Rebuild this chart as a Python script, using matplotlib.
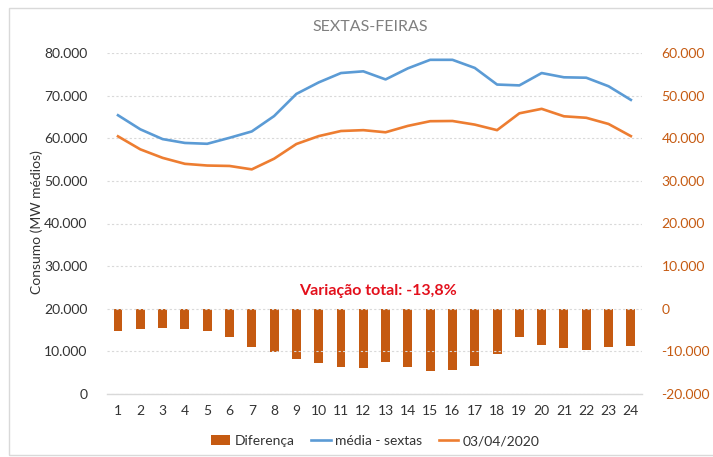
import matplotlib
matplotlib.use("Agg")
import matplotlib.pyplot as plt
from matplotlib.patches import Rectangle
from matplotlib.ticker import FuncFormatter, MultipleLocator

plt.rcParams['font.family'] = ['Lato', 'DejaVu Sans']

hours = list(range(1, 25))
media_sextas = [65400, 62100, 59800, 58900, 58700, 60100, 61600, 65200, 70400, 73100,
                75300, 75700, 73800, 76400, 78400, 78400, 76500, 72600, 72400, 75300,
                74300, 74200, 72200, 69000]
dia_03_04 = [60450, 57400, 55400, 54000, 53600, 53500, 52700, 55200, 58650, 60500,
             61700, 61900, 61400, 62900, 64000, 64050, 63200, 61900, 65850, 66900,
             65150, 64800, 63350, 60500]
diferenca = [-5160, -4770, -4610, -4770, -5320, -6650, -8900, -10090, -11730, -12670,
             -13770, -13920, -12510, -13770, -14550, -14390, -13450, -10640, -6650, -8530,
             -9230, -9620, -9070, -8690]

title = "SEXTAS-FEIRAS"
annot = "Variação total: -13,8%"
left_label = "Consumo (MW médios)"
right_label = "Diferença (MW médios)"

W, H = 713, 457
fig = plt.figure(figsize=(W / 100, H / 100), dpi=100)
ax = fig.add_axes([106.85 / W, (H - 394) / H, (642 - 106.85) / W, (394 - 53) / H])
ax2 = ax.twinx()

blue = '#5B9BD5'
orange = '#ED7D31'
dark_orange = '#C55A11'
txt = '#333333'

def fmt(v, pos=None):
    return f"{v:,.0f}".replace(",", ".")

bars = ax2.bar(hours, diferenca, width=0.4, color=dark_orange, label='Diferença', zorder=3)
l1, = ax.plot(hours, media_sextas, color=blue, lw=1.9, label='média - sextas', zorder=3)
l2, = ax.plot(hours, dia_03_04, color=orange, lw=1.9, label='03/04/2020', zorder=3)
ax.set_zorder(ax2.get_zorder() + 1)
ax.patch.set_visible(False)

ax.set_xlim(0.5, 24.5)
ax.set_ylim(0, 80000)
ax2.set_ylim(-20000, 60000)
ax.yaxis.set_major_locator(MultipleLocator(10000))
ax2.yaxis.set_major_locator(MultipleLocator(10000))
ax.yaxis.set_major_formatter(FuncFormatter(fmt))
ax2.yaxis.set_major_formatter(FuncFormatter(fmt))
ax.set_xticks(hours)
ax.set_xticklabels([str(h) for h in hours])

for a in (ax, ax2):
    for s in a.spines.values():
        s.set_visible(False)
ax.spines['bottom'].set_visible(True)
ax.spines['bottom'].set_color('#D9D9D9')
ax.spines['bottom'].set_linewidth(1.0)

ax.tick_params(axis='both', length=0, labelsize=10, colors=txt)
ax.tick_params(axis='y', pad=14)
ax.tick_params(axis='x', pad=8)
ax2.tick_params(axis='y', length=0, labelsize=10, colors=dark_orange, pad=14)

ax.grid(axis='y', color='#D9D9D9', linestyle=(0, (2, 2)), lw=0.8, zorder=0)
ax.set_axisbelow(True)

fig.text(370 / W, 1 - 27 / H, title, ha='center', va='center', fontsize=11.5, color='#7F7F7F')
fig.text(378 / W, 1 - 291 / H, annot, ha='center', va='center', fontsize=11.5,
         fontweight='bold', color='#E3101C')
fig.text(37 / W, 1 - 222 / H, left_label, rotation=90, ha='center', va='center',
         fontsize=10, color=txt)
fig.text(718 / W, 1 - 214 / H, right_label, rotation=270, ha='center', va='center',
         fontsize=10, color=dark_orange)

fig.legend(handles=[bars, l1, l2], loc='center', bbox_to_anchor=(375 / W, 1 - 441 / H),
           ncol=3, frameon=False, fontsize=10, handlelength=1.4, handletextpad=0.3,
           columnspacing=1.2, labelcolor=txt)

fig.add_artist(Rectangle((8.5 / W, 2.5 / H), 1.0, (H - 10) / H, transform=fig.transFigure,
                         fill=False, edgecolor='#D9D9D9', lw=1.0))

fig.savefig('out.png', dpi=100, facecolor='white')
